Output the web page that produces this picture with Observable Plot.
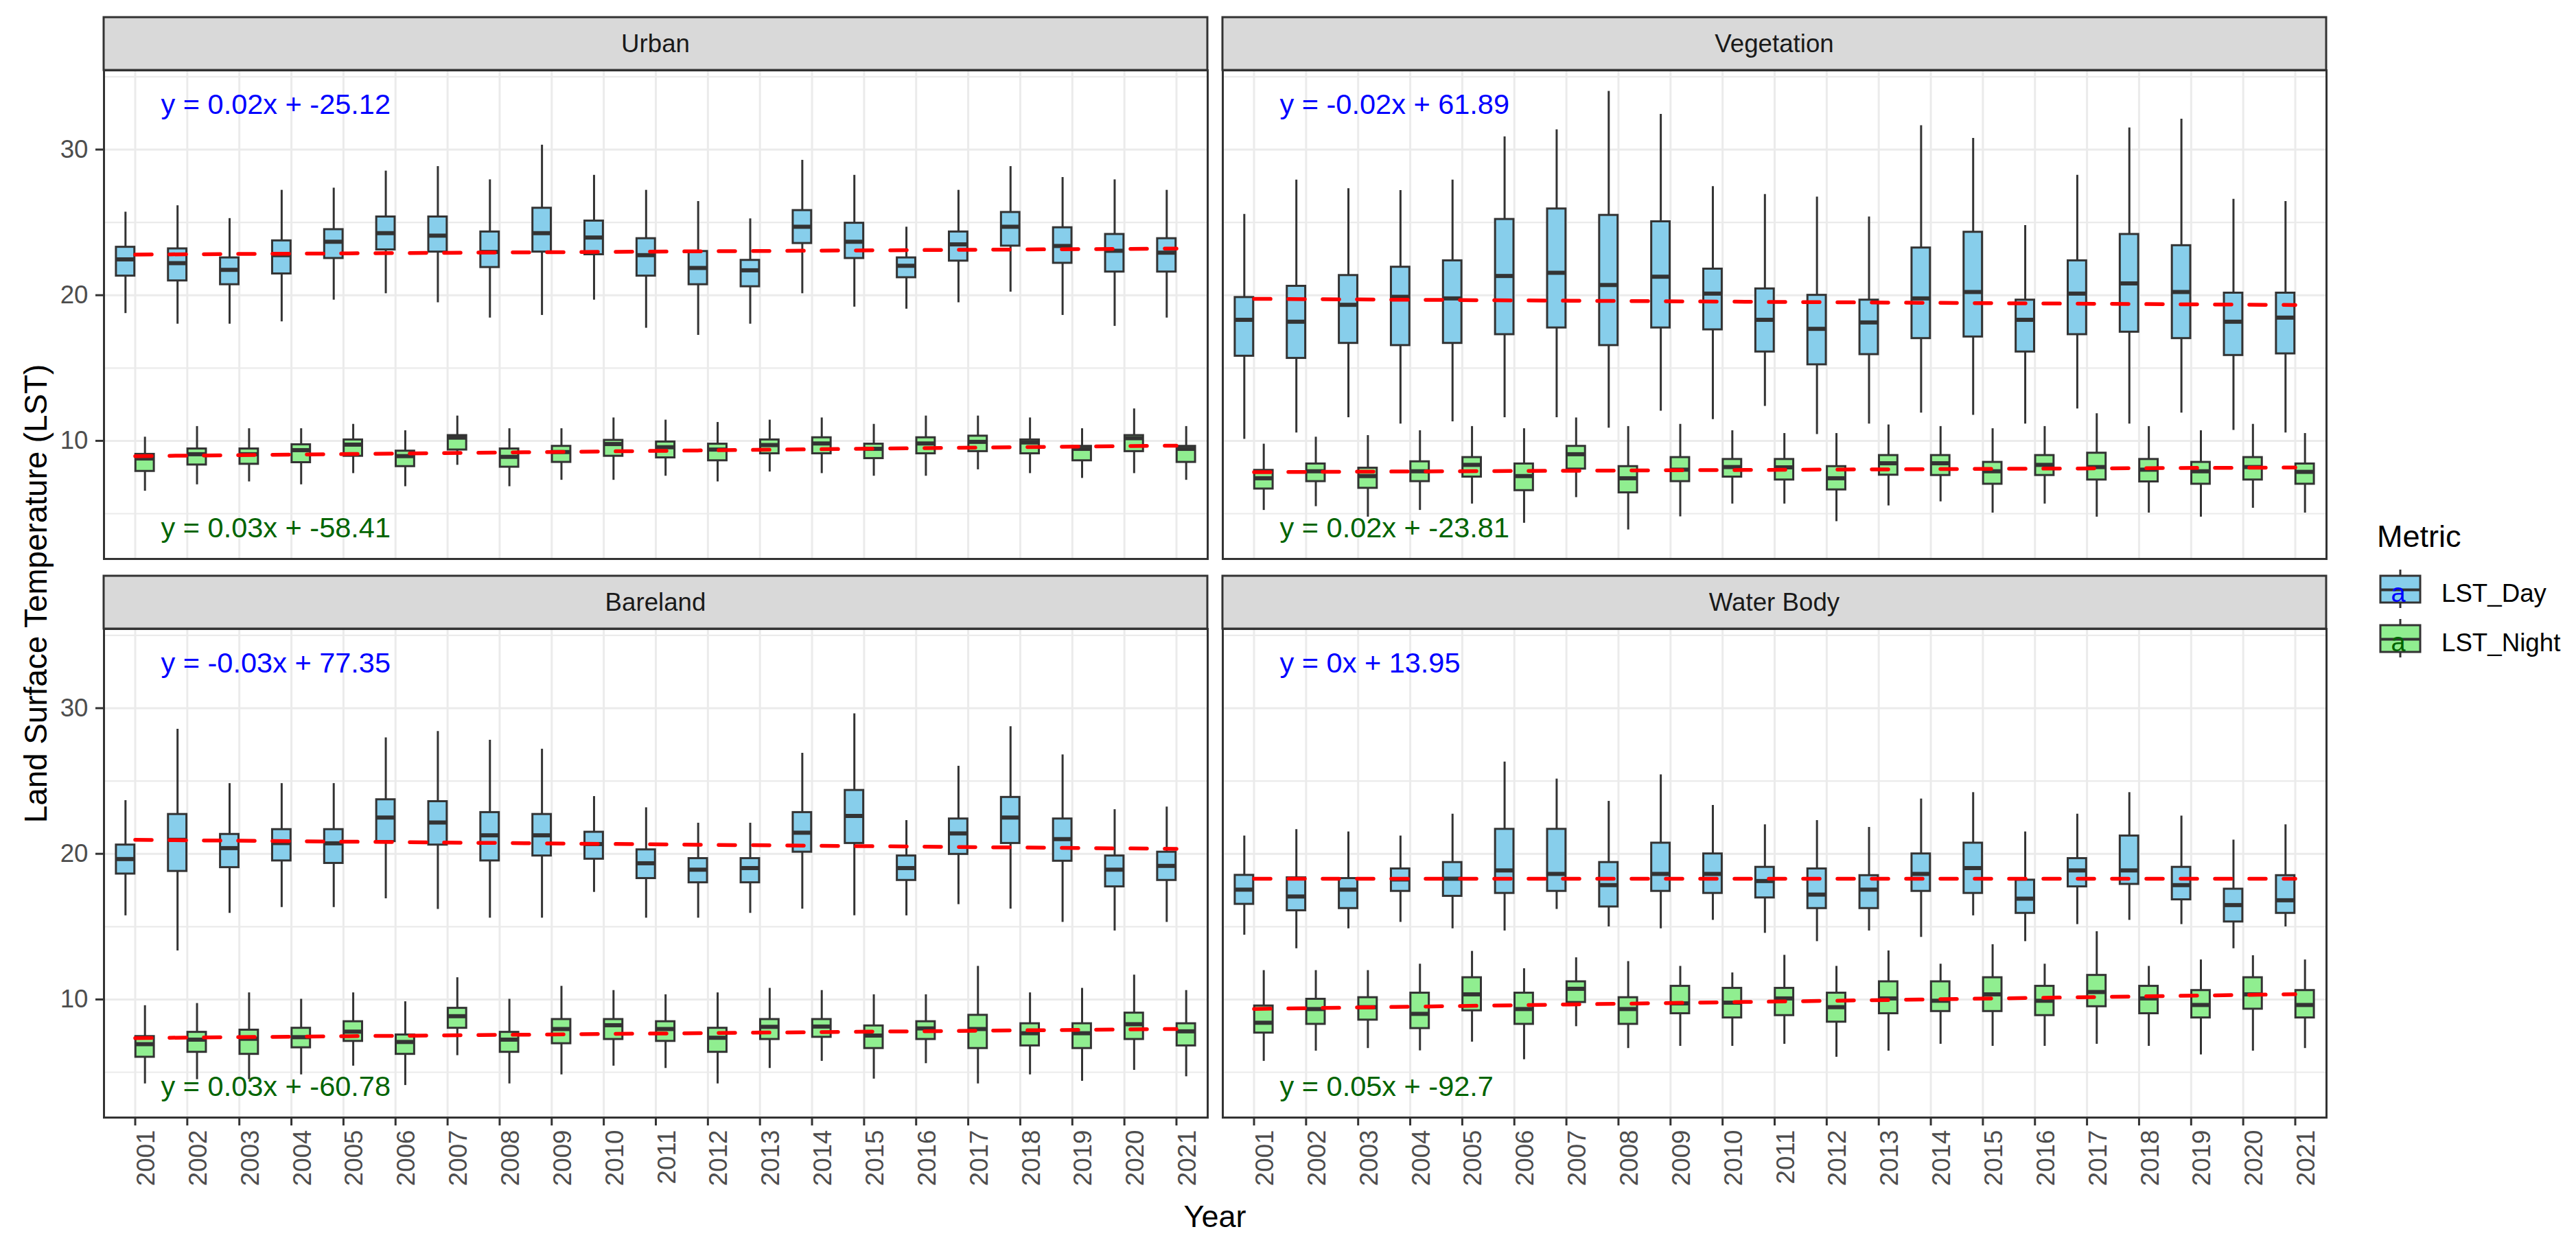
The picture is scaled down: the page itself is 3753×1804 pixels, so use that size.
<!DOCTYPE html>
<html>
<head>
<meta charset="utf-8">
<script src="https://cdn.jsdelivr.net/npm/d3@7"></script>
<script src="https://cdn.jsdelivr.net/npm/@observablehq/plot@0.6"></script>
<style>
html, body { margin: 0; padding: 0; background: #ffffff; }
#wrap { position: relative; width: 3753px; height: 1804px; overflow: hidden; background: #ffffff; font-family: "Liberation Sans", Arial, sans-serif; }
.panel { position: absolute; }
.panel svg { overflow: visible; }
#overlay { position: absolute; left: 0; top: 0; }
</style>
</head>
<body>
<div id="wrap"></div>
<script>
// ---------------- DATA ----------------
const years = [2001, 2002, 2003, 2004, 2005, 2006, 2007, 2008, 2009, 2010, 2011,
               2012, 2013, 2014, 2015, 2016, 2017, 2018, 2019, 2020, 2021];
const facets = ["Urban", "Vegetation", "Bareland", "Water Body"];
const metrics = ["LST_Day", "LST_Night"];
const yTicks = [10, 20, 30];
const yMinor = [5, 15, 25, 35];

// each entry: [lower whisker, Q1, median, Q3, upper whisker]
const urbanDay = [
  [18.75,21.32,22.46,23.30,25.71],[18.02,20.99,22.20,23.19,26.15],[18.02,20.73,21.74,22.57,25.27],
  [18.18,21.47,22.75,23.74,27.21],[19.67,22.53,23.67,24.51,27.36],[20.11,23.12,24.26,25.38,28.53],
  [19.49,22.97,24.09,25.38,28.84],[18.44,21.91,22.97,24.35,27.93],[18.62,22.97,24.26,25.98,30.31],
  [19.67,22.79,23.96,25.10,28.24],[17.74,21.32,22.75,23.89,27.21],[17.25,20.73,21.87,23.01,26.44],
  [18.02,20.59,21.71,22.40,25.25],[20.11,23.56,24.70,25.82,29.27],[19.19,22.53,23.67,24.95,28.24],
  [19.05,21.21,22.02,22.57,24.68],[19.49,22.35,23.49,24.35,27.21],[20.22,23.38,24.70,25.69,28.84],
  [18.62,22.20,23.38,24.64,28.09],[17.87,21.60,23.05,24.18,27.93],[18.44,21.60,22.92,23.89,27.21]
];
const urbanNight = [
  [6.55,7.91,8.79,9.08,10.26],[6.99,8.35,9.08,9.45,10.99],[7.19,8.40,9.08,9.45,10.84],
  [6.99,8.51,9.36,9.74,10.84],[7.76,8.95,9.74,10.07,11.14],[6.86,8.24,8.95,9.30,10.70],
  [8.33,9.38,10.22,10.37,11.71],[6.86,8.20,8.90,9.45,10.84],[7.30,8.53,9.23,9.63,10.84],
  [7.30,8.95,9.78,10.04,11.58],[7.58,8.84,9.56,9.93,11.43],[7.19,8.64,9.40,9.78,11.27],
  [7.87,9.12,9.71,10.07,11.43],[7.76,9.12,9.82,10.22,11.58],[7.58,8.79,9.45,9.78,11.14],
  [7.58,9.12,9.82,10.22,11.71],[8.02,9.27,9.93,10.33,11.71],[7.76,9.12,9.89,10.07,11.58],
  [7.43,8.64,9.45,9.63,10.84],[7.76,9.27,10.18,10.37,12.20],[7.30,8.53,9.45,9.63,10.99]
];
const vegDay = [
  [10.11,15.82,18.31,19.85,25.56],[10.55,15.67,18.18,20.62,27.91],[11.60,16.70,19.34,21.36,27.32],
  [11.16,16.55,19.89,21.93,27.19],[11.32,16.70,19.78,22.37,27.91],[11.60,17.30,21.32,25.21,30.88],
  [11.60,17.76,21.54,25.93,31.36],[10.88,16.55,20.70,25.49,34.00],[12.04,17.76,21.27,25.05,32.42],
  [11.47,17.63,20.11,21.80,27.47],[12.37,16.11,18.31,20.44,26.92],[10.44,15.23,17.69,20.00,26.75],
  [11.16,15.93,18.13,19.67,25.38],[11.91,17.03,19.78,23.25,31.65],[11.76,17.14,20.22,24.33,30.77],
  [11.16,16.11,18.31,19.67,24.79],[12.20,17.30,20.11,22.37,28.24],[11.16,17.47,20.81,24.18,31.49],
  [11.91,17.03,20.22,23.41,32.09],[10.73,15.87,18.18,20.15,26.59],[10.55,15.98,18.46,20.15,26.44]
];
const vegNight = [
  [5.23,6.70,7.43,7.98,9.78],[5.49,7.21,7.91,8.42,10.26],[4.77,6.75,7.58,8.13,10.37],
  [5.23,7.21,7.91,8.57,10.70],[5.67,7.52,8.35,8.86,10.99],[4.35,6.59,7.58,8.42,10.84],
  [6.11,8.07,9.08,9.63,11.58],[3.89,6.44,7.43,8.24,10.99],[4.79,7.21,8.02,8.86,11.14],
  [5.67,7.52,8.20,8.73,10.70],[5.67,7.32,8.18,8.73,10.51],[4.46,6.64,7.43,8.24,10.51],
  [5.54,7.65,8.46,9.00,11.10],[5.82,7.63,8.46,9.00,10.99],[5.05,7.03,7.91,8.53,10.84],
  [5.67,7.63,8.35,9.00,10.99],[4.77,7.32,8.20,9.16,11.87],[5.05,7.19,8.02,8.73,10.99],
  [4.77,7.03,7.91,8.53,10.70],[5.38,7.32,8.20,8.86,11.14],[5.05,7.03,7.87,8.42,10.51]
];
const bareDay = [
  [15.75,18.62,19.64,20.61,23.66],[13.34,18.80,20.96,22.71,28.56],[15.92,19.06,20.39,21.34,24.83],
  [16.32,19.52,20.74,21.67,24.83],[16.32,19.35,20.72,21.67,24.83],[16.92,20.85,22.49,23.72,27.97],
  [16.19,20.61,22.15,23.59,28.41],[15.59,19.52,21.27,22.84,27.81],[15.59,19.86,21.27,22.71,27.19],
  [17.36,19.64,20.67,21.49,23.94],[15.59,18.31,19.35,20.28,23.17],[15.59,18.02,18.91,19.68,22.11],
  [15.92,18.02,19.02,19.68,22.11],[16.21,20.12,21.45,22.84,26.91],[15.75,20.72,22.60,24.36,29.62],
  [15.75,18.18,19.02,19.86,22.29],[16.52,19.97,21.40,22.40,26.02],[16.21,20.72,22.49,23.88,28.74],
  [15.30,19.50,21.01,22.40,26.80],[14.71,17.74,18.91,19.86,23.04],[15.30,18.18,19.17,20.12,23.22]
];
const bareNight = [
  [4.21,6.04,6.93,7.46,9.58],[4.50,6.38,7.24,7.75,9.73],[4.50,6.24,7.30,7.90,10.46],
  [4.83,6.69,7.41,8.03,10.02],[5.43,7.13,7.79,8.48,10.46],[4.10,6.24,7.08,7.57,9.85],
  [6.15,8.03,8.85,9.40,11.50],[4.21,6.38,7.24,7.75,10.02],[4.83,6.97,7.97,8.63,10.91],
  [5.43,7.26,8.23,8.63,10.62],[5.27,7.13,7.97,8.48,10.33],[4.21,6.38,7.37,8.03,10.46],
  [5.27,7.26,8.12,8.63,10.77],[5.76,7.41,8.14,8.63,10.62],[4.54,6.64,7.52,8.19,10.33],
  [5.60,7.26,8.01,8.48,10.33],[4.21,6.64,7.97,8.92,12.28],[4.83,6.82,7.68,8.34,10.46],
  [4.39,6.64,7.68,8.34,10.77],[5.14,7.26,8.30,9.07,11.68],[4.70,6.82,7.81,8.34,10.62]
];
const waterDay = [
  [14.42,16.54,17.54,18.53,21.23],[13.49,16.10,17.07,18.36,21.67],[14.86,16.25,17.54,18.31,21.51],
  [15.30,17.43,18.24,18.97,21.23],[14.86,17.09,18.29,19.41,22.73],[14.71,17.29,18.86,21.69,26.31],
  [16.19,17.43,18.62,21.69,25.14],[14.99,16.36,17.85,19.41,23.61],[14.86,17.43,18.62,20.74,25.43],
  [15.44,17.29,18.62,20.00,23.33],[14.55,16.98,18.13,19.08,22.00],[13.98,16.25,17.20,18.97,22.29],
  [14.71,16.25,17.54,18.51,21.82],[14.27,17.43,18.62,20.00,23.77],[15.75,17.29,19.02,20.74,24.21],
  [13.98,15.92,16.92,18.20,21.51],[15.15,17.74,18.86,19.68,22.73],[15.44,17.91,18.86,21.23,24.21],
  [15.15,16.85,17.85,19.08,22.60],[13.49,15.33,16.48,17.58,20.95],[14.99,15.92,16.81,18.51,22.00]
];
const waterNight = [
  [5.76,7.70,8.40,9.56,11.99],[6.46,8.30,9.34,10.02,11.99],[6.64,8.59,9.47,10.13,11.99],
  [6.48,8.01,9.01,10.44,12.43],[7.08,9.23,10.35,11.50,13.31],[5.87,8.30,9.34,10.44,12.12],
  [8.14,9.80,10.73,11.22,12.87],[6.64,8.30,9.34,10.13,12.61],[6.79,9.03,9.73,10.91,12.28],
  [6.79,8.74,9.78,10.77,11.83],[6.93,8.90,10.07,10.77,13.04],[6.04,8.45,9.47,10.44,12.28],
  [6.46,9.03,10.07,11.22,13.34],[6.93,9.18,9.91,11.22,12.43],[6.79,9.18,10.35,11.50,13.77],
  [6.79,8.90,9.91,10.91,12.43],[6.93,9.51,10.51,11.66,14.66],[6.79,9.03,10.07,10.91,12.28],
  [6.20,8.74,9.62,10.62,12.72],[6.46,9.34,10.35,11.50,13.01],[6.64,8.74,9.62,10.62,12.72]
];

// regression equations shown in each panel
const eqDay   = ["y = 0.02x + -25.12", "y = -0.02x + 61.89", "y = -0.03x + 77.35", "y = 0x + 13.95"];
const eqNight = ["y = 0.03x + -58.41", "y = 0.02x + -23.81", "y = 0.03x + -60.78", "y = 0.05x + -92.7"];
// trend line values at first and last year [2001, 2021]
const trendDay   = [[22.79, 23.20], [19.75, 19.33], [20.96, 20.34], [18.29, 18.29]];
const trendNight = [[8.95, 9.67], [7.85, 8.17], [7.35, 7.97], [9.35, 10.36]];

// ---------------- LAYOUT / STYLE ----------------
const FONT = '"Liberation Sans", Arial, sans-serif';
const PW = 1608, PH = 712;
const yDomain = [1.89, 35.44];
const DODGE = 0.187, HALF = 0.177;
const dayFill = "#87CEEB", nightFill = "#90EE90";
const panels = [
  {i: 0, day: urbanDay, night: urbanNight, left: 151,  top: 102, yAxis: true,  xAxis: false},
  {i: 1, day: vegDay,   night: vegNight,   left: 1781, top: 102, yAxis: false, xAxis: false},
  {i: 2, day: bareDay,  night: bareNight,  left: 151,  top: 916, yAxis: true,  xAxis: true},
  {i: 3, day: waterDay, night: waterNight, left: 1781, top: 916, yAxis: false, xAxis: true}
];

const wrap = document.getElementById("wrap");

function buildRows(dayArr, nightArr) {
  const rows = [];
  years.forEach((yr, k) => {
    [[dayArr, 0], [nightArr, 1]].forEach(([arr, m]) => {
      const [lo, q1, med, q3, hi] = arr[k];
      const c = yr + (m === 0 ? -DODGE : DODGE);
      rows.push({year: yr, metric: metrics[m], c, l: c - HALF, r: c + HALF, lo, q1, med, q3, hi});
    });
  });
  return rows;
}

panels.forEach(P => {
  const rows = buildRows(P.day, P.night);
  const first = years[0], last = years[years.length - 1];
  const trendRows = [
    {year: first, value: trendDay[P.i][0], metric: metrics[0]},
    {year: last,  value: trendDay[P.i][1], metric: metrics[0]},
    {year: first, value: trendNight[P.i][0], metric: metrics[1]},
    {year: last,  value: trendNight[P.i][1], metric: metrics[1]}
  ];
  const ml = P.yAxis ? 151 : 4, mr = 4, mt = 4, mb = P.xAxis ? 176 : 4;
  const marks = [
    Plot.gridY(yMinor, {stroke: "#EBEBEB", strokeOpacity: 1, strokeWidth: 2.2}),
    Plot.gridY(yTicks, {stroke: "#EBEBEB", strokeOpacity: 1, strokeWidth: 3}),
    Plot.gridX(years, {stroke: "#EBEBEB", strokeOpacity: 1, strokeWidth: 3}),
    Plot.ruleX(rows, {x: "c", y1: "lo", y2: "hi", stroke: "#333333", strokeWidth: 3}),
    Plot.rect(rows, {x1: "l", x2: "r", y1: "q1", y2: "q3", fill: "metric", stroke: "#333333", strokeWidth: 3}),
    Plot.ruleY(rows, {y: "med", x1: "l", x2: "r", stroke: "#333333", strokeWidth: 6}),
    Plot.line(trendRows, {x: "year", y: "value", z: "metric", stroke: "#FF0000", strokeWidth: 5.5, strokeDasharray: "24,26"}),
    Plot.text([eqDay[P.i]], {text: d => d, frameAnchor: "top-left", textAnchor: "start", lineAnchor: "bottom",
      dx: 83, dy: 63, fill: "#0000FF", fontSize: 41.5}),
    Plot.text([eqNight[P.i]], {text: d => d, frameAnchor: "bottom-left", textAnchor: "start", lineAnchor: "bottom",
      dx: 83, dy: -32, fill: "#006400", fontSize: 41.5}),
    Plot.frame({stroke: "#333333", strokeWidth: 3})
  ];
  if (P.yAxis) {
    marks.push(Plot.axisY(yTicks, {tickSize: 12, tickPadding: 11, stroke: "#333333", strokeWidth: 3,
      fill: "#4D4D4D", fontSize: 36.7, label: null}));
  }
  if (P.xAxis) {
    marks.push(Plot.axisX(years, {tickSize: 12, stroke: "#333333", strokeWidth: 3, fill: "none",
      tickFormat: () => "", label: null}));
    marks.push(Plot.text(years, {x: d => d, text: d => String(d), frameAnchor: "bottom", rotate: -90,
      textAnchor: "end", lineAnchor: "top", dx: 2, dy: 18, fill: "#4D4D4D", fontSize: 36.7}));
  }
  const chart = Plot.plot({
    width: ml + PW + mr, height: mt + PH + mb,
    marginLeft: ml, marginRight: mr, marginTop: mt, marginBottom: mb,
    x: {domain: [first - 0.6, last + 0.6], axis: null},
    y: {domain: yDomain, axis: null},
    color: {domain: metrics, range: [dayFill, nightFill]},
    style: {fontFamily: FONT, background: "none", overflow: "visible", color: "#333333"},
    marks
  });
  const div = document.createElement("div");
  div.className = "panel";
  div.style.left = (P.left - ml) + "px";
  div.style.top = (P.top - mt) + "px";
  div.appendChild(chart);
  wrap.appendChild(div);
});

// ---------------- strips, axis titles, legend ----------------
const stripH = 77;
let ov = `<svg id="overlay" width="3753" height="1804" xmlns="http://www.w3.org/2000/svg" font-family='${FONT}'>`;
panels.forEach(P => {
  const sy = P.top - stripH;
  ov += `<rect x="${P.left}" y="${sy}" width="${PW}" height="${stripH}" fill="#D9D9D9" stroke="#333333" stroke-width="3"/>`;
  ov += `<text x="${P.left + PW / 2}" y="${sy + stripH / 2}" dy="0.35em" text-anchor="middle" font-size="36.7" fill="#1A1A1A">${facets[P.i]}</text>`;
});
ov += `<text transform="translate(68,865) rotate(-90)" text-anchor="middle" font-size="45.8" fill="#000">Land Surface Temperature (LST)</text>`;
ov += `<text x="1770" y="1788" text-anchor="middle" font-size="45" fill="#000">Year</text>`;
ov += `<text x="3463" y="797" font-size="45" fill="#000">Metric</text>`;
const keys = [
  {label: metrics[0], fill: dayFill, a: "#0000FF", y0: 830},
  {label: metrics[1], fill: nightFill, a: "#006400", y0: 902}
];
keys.forEach(k => {
  const bx = 3468, bw = 58, top = k.y0 + 9, h = 39, cx = bx + bw / 2;
  ov += `<line x1="${cx}" x2="${cx}" y1="${k.y0}" y2="${k.y0 + 56}" stroke="#333333" stroke-width="3"/>`;
  ov += `<rect x="${bx}" y="${top}" width="${bw}" height="${h}" fill="${k.fill}" stroke="#333333" stroke-width="3"/>`;
  ov += `<line x1="${bx}" x2="${bx + bw}" y1="${top + h / 2 + 1}" y2="${top + h / 2 + 1}" stroke="#333333" stroke-width="4"/>`;
  ov += `<text x="${cx - 3}" y="${top + h - 1}" text-anchor="middle" font-size="38" fill="${k.a}">a</text>`;
  ov += `<text x="3557" y="${top + h - 1}" font-size="36.7" fill="#000">${k.label}</text>`;
});
ov += `</svg>`;
wrap.insertAdjacentHTML("beforeend", ov);
</script>
</body>
</html>
